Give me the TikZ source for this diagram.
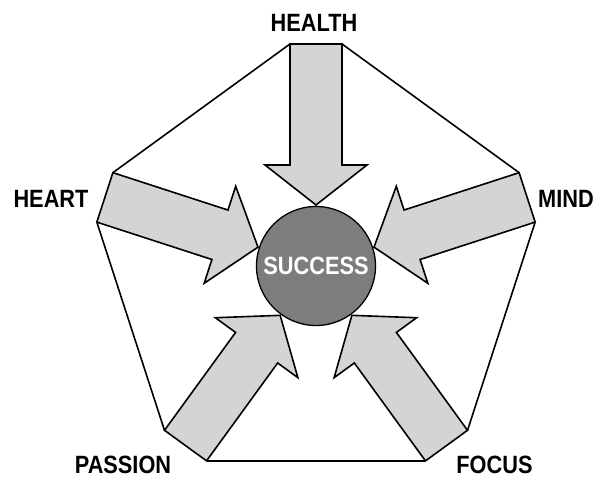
\documentclass[tikz,border=0pt]{standalone}
\usepackage{fontspec}
\newfontfamily\labelfont[FakeStretch=0.87]{Liberation Sans}
\definecolor{arrowgray}{RGB}{212,212,212}
\definecolor{coregray}{RGB}{125,125,125}
\tikzset{
  spoke/.style={draw=black, line width=1.6bp, fill=arrowgray, line join=miter},
  rim/.style={draw=black, line width=1.6bp, line join=miter},
  corelabel/.style={circle, draw=black, line width=1.3bp, fill=coregray,
    minimum size=119bp, inner sep=0pt, text=white,
    font=\labelfont\bfseries\fontsize{25bp}{30bp}\selectfont},
  pillar/.style={inner sep=0pt, text=black,
    font=\labelfont\bfseries\fontsize{25bp}{30bp}\selectfont}
}
\begin{document}
\begin{tikzpicture}[x=1bp, y=1bp]
  \useasboundingbox (0,0) rectangle (597,479);
  \coordinate (c) at (316,213);

  % five arrows pointing at the centre; tail corners are named for the rim
  \foreach \ang/\nm in {90/top, 162/left, 234/lowleft, 306/lowright, 18/right}{
    \begin{scope}[shift={(c)}, rotate=\ang]
      \draw[spoke] (222,26) -- (101,26) -- (101,51) -- (61,0)
                -- (101,-51) -- (101,-26) -- (222,-26) -- cycle;
      \coordinate (\nm-a) at (222,26);
      \coordinate (\nm-b) at (222,-26);
    \end{scope}
  }

  % pentagon rim joining neighbouring arrow tails
  \draw[rim] (top-a) -- (left-b);
  \draw[rim] (left-a) -- (lowleft-b);
  \draw[rim] (lowleft-a) -- (lowright-b);
  \draw[rim] (lowright-a) -- (right-b);
  \draw[rim] (right-a) -- (top-b);

  \node[corelabel] (core) at (c) {SUCCESS};

  \node[pillar] (health)  at (314,456) {HEALTH};
  \node[pillar] (heart)   at (51,280)  {HEART};
  \node[pillar] (mind)    at (566,280) {MIND};
  \node[pillar] (passion) at (123,14) {PASSION};
  \node[pillar] (focus)   at (494.5,14) {FOCUS};
\end{tikzpicture}
\end{document}
